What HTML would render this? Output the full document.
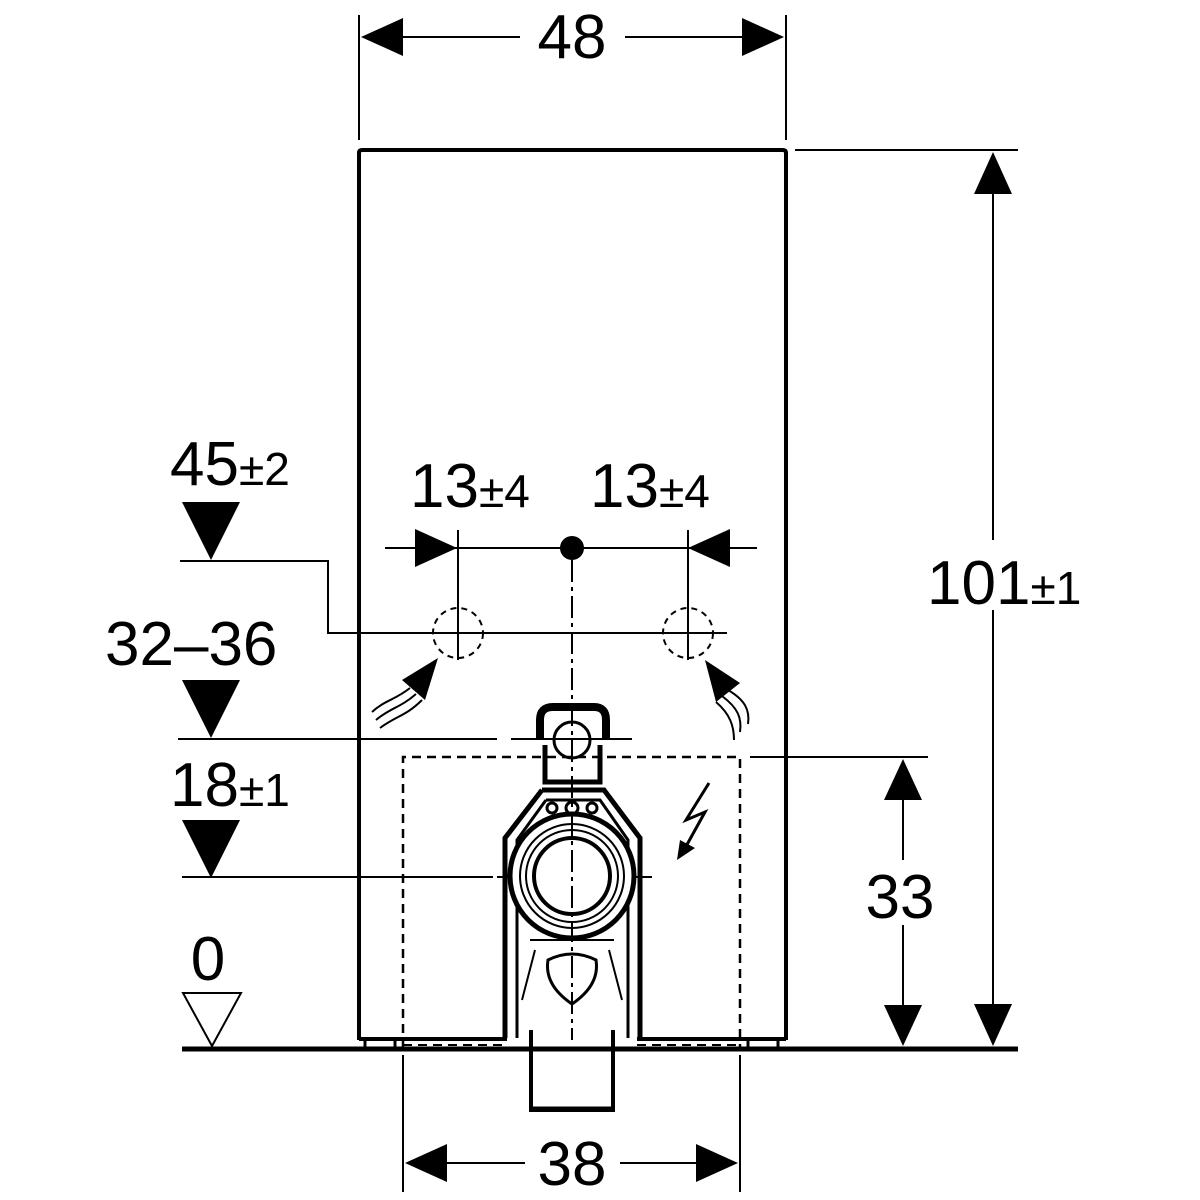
<!DOCTYPE html>
<html><head><meta charset="utf-8"><style>html,body{margin:0;padding:0;background:#fff}svg{display:block}</style></head>
<body>
<svg width="1200" height="1200" viewBox="0 0 1200 1200" xmlns="http://www.w3.org/2000/svg" font-family="Liberation Sans, sans-serif" fill="none" stroke="#000">
<path d="M359 1040 V153 Q359 150 362 150 H783 Q786 150 786 153 V1040" stroke-width="4"/>
<path d="M359 1039 H507 M637 1039 H786" stroke-width="4"/>
<path d="M365 1040 V1048 M395 1040 V1048 M748 1040 V1048 M778 1040 V1048" stroke-width="3"/>
<line x1="182" y1="1049" x2="1018" y2="1049" stroke-width="5"/>
<path d="M359 15 V140 M786 15 V140" stroke-width="2"/>
<path d="M400 37 H520 M625 37 H745" stroke-width="2"/>
<polygon points="361,37 403,18 403,56" fill="#000" stroke="none"/>
<polygon points="784,37 742,18 742,56" fill="#000" stroke="none"/>
<text x="572" y="58" font-size="62" text-anchor="middle" fill="#000" stroke="none">48</text>
<path d="M795 150 H1018" stroke-width="2"/>
<path d="M993 190 V540 M993 610 V1010" stroke-width="2"/>
<polygon points="993,152 974,194 1012,194" fill="#000" stroke="none"/>
<polygon points="993,1046 974,1004 1012,1004" fill="#000" stroke="none"/>
<text x="927" y="604" font-size="62" fill="#000" stroke="none">101<tspan font-size="46">±1</tspan></text>
<path d="M750 757 H928" stroke-width="2"/>
<path d="M903 795 V860 M903 925 V1010" stroke-width="2"/>
<polygon points="903,759 884,800 922,800" fill="#000" stroke="none"/>
<polygon points="903,1046 884,1005 922,1005" fill="#000" stroke="none"/>
<text x="900" y="918" font-size="62" text-anchor="middle" fill="#000" stroke="none">33</text>
<path d="M403 1055 V1192 M740 1055 V1192" stroke-width="2"/>
<path d="M440 1163 H525 M620 1163 H705" stroke-width="2"/>
<polygon points="405,1163 447,1144 447,1182" fill="#000" stroke="none"/>
<polygon points="738,1163 696,1144 696,1182" fill="#000" stroke="none"/>
<text x="572" y="1185" font-size="62" text-anchor="middle" fill="#000" stroke="none">38</text>
<path d="M403 1048 V757 H740 V1048" stroke-width="2.5" stroke-dasharray="9 6"/>
<path d="M403 1045 H507 M637 1045 H740" stroke-width="2" stroke-dasharray="9 6"/>
<text x="170" y="485" font-size="62" fill="#000" stroke="none">45<tspan font-size="46">±2</tspan></text>
<polygon points="182,502 240,502 211,560" fill="#000" stroke="none"/>
<path d="M180 561 H328 V633 H727" stroke-width="2"/>
<text x="105" y="665" font-size="62" fill="#000" stroke="none">32–36</text>
<polygon points="182,680 240,680 211,738" fill="#000" stroke="none"/>
<path d="M178 739 H497 M511 739 H632" stroke-width="2"/>
<text x="170" y="806" font-size="62" fill="#000" stroke="none">18<tspan font-size="46">±1</tspan></text>
<polygon points="182,820 240,820 211,878" fill="#000" stroke="none"/>
<path d="M182 877 H493 M497 877 H560 M600 877 H652" stroke-width="2"/>
<text x="208" y="980" font-size="62" text-anchor="middle" fill="#000" stroke="none">0</text>
<polygon points="183,993 241,993 212,1046" stroke-width="2" fill="#fff"/>
<text x="410" y="507" font-size="62" fill="#000" stroke="none">13<tspan font-size="46">±4</tspan></text>
<text x="590" y="507" font-size="62" fill="#000" stroke="none">13<tspan font-size="46">±4</tspan></text>
<path d="M385 548 H757" stroke-width="2"/>
<polygon points="457,548 415,529 415,567" fill="#000" stroke="none"/>
<polygon points="688,548 730,529 730,567" fill="#000" stroke="none"/>
<circle cx="572" cy="548" r="12" fill="#000" stroke="none"/>
<path d="M458 530 V660 M688 530 V660" stroke-width="2"/>
<circle cx="458" cy="633" r="25" stroke-width="2" stroke-dasharray="6 5"/>
<circle cx="688" cy="633" r="25" stroke-width="2" stroke-dasharray="6 5"/>
<path d="M572 560 V1040" stroke-width="2" stroke-dasharray="22 5 4 5"/>
<polygon points="438,658 402,680 425,700" fill="#000" stroke="none"/>
<path d="M410 688 C395 700 385 700 372 712 M416 694 C400 708 390 708 376 720 M422 700 C406 716 396 716 380 728" stroke-width="2"/>
<polygon points="705,660 740,683 716,702" fill="#000" stroke="none"/>
<path d="M728 690 C745 700 750 710 748 724 M722 696 C738 708 742 718 740 732 M716 702 C730 714 734 726 734 740" stroke-width="2"/>
<path d="M709 783 L686 820 L705 812 L684 850" stroke-width="3"/>
<polygon points="677,860 680,840 695,848" fill="#000" stroke="none"/>
<path d="M540 740 V720 Q540 707 553 707 H594 Q606 707 606 720 V740" stroke-width="8"/>
<path d="M545 745 V782 H600 V745" stroke-width="5"/>
<circle cx="572" cy="740" r="18" stroke-width="3"/>
<path d="M542 790 H604 L640 838 V1038 M542 790 L505 838 V1038" stroke-width="5"/>
<path d="M546 800 H600 L628 840 V1038 M546 800 L517 840 V1038" stroke-width="3"/>
<circle cx="552" cy="808" r="5" stroke-width="3"/>
<circle cx="592" cy="808" r="5" stroke-width="3"/>
<circle cx="572" cy="808" r="6" stroke-width="3"/>
<circle cx="572" cy="876" r="62" stroke-width="5" fill="#fff"/>
<circle cx="572" cy="876" r="52" stroke-width="2"/>
<circle cx="572" cy="876" r="46" stroke-width="2"/>
<circle cx="572" cy="876" r="38" stroke-width="4"/>
<path d="M572 814 V940" stroke-width="2" stroke-dasharray="22 5 4 5"/>
<path d="M530 940 H614 M535 950 L522 1000 M609 950 L622 1000" stroke-width="2"/>
<path d="M548 960 Q572 948 596 960 Q600 985 572 1004 Q544 985 548 960 Z" stroke-width="3"/>
<path d="M531 1030 V1110 H613 V1030" stroke-width="4"/>
<path d="M531 1109 H613" stroke-width="5"/>
<path d="M531 1048 H613" stroke-width="2" stroke-dasharray="9 6"/>
</svg>
</body></html>
